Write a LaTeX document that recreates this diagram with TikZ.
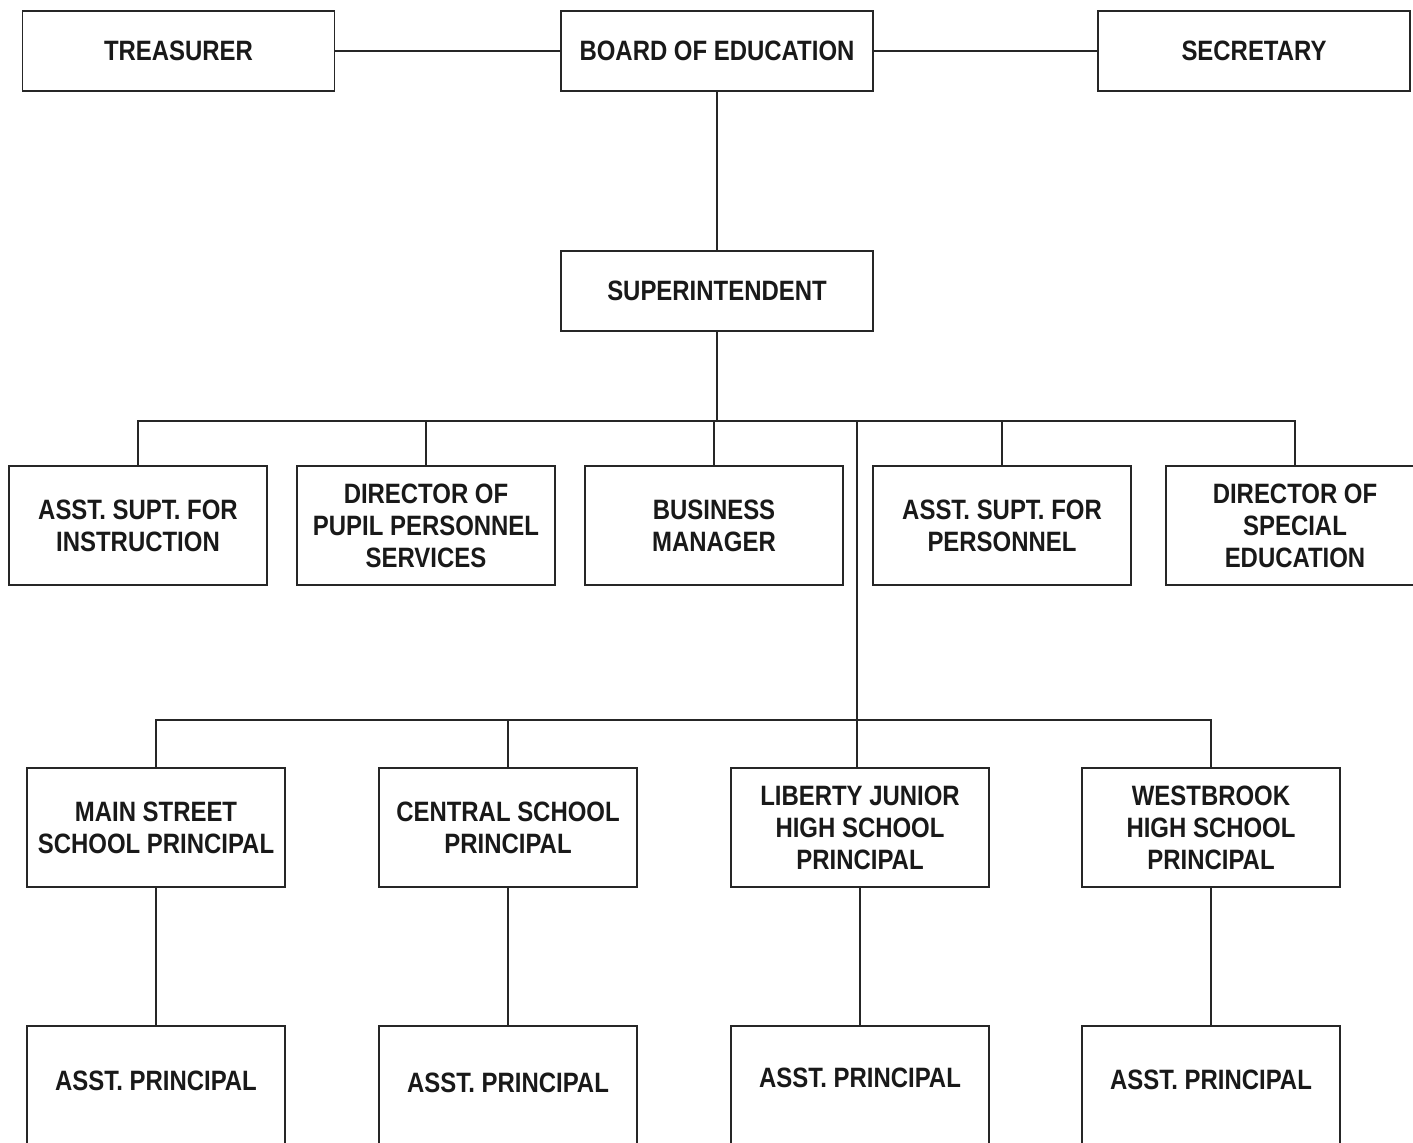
\documentclass[tikz,border=0pt]{standalone}
\usepackage{fontspec}
\setmainfont{Liberation Sans}[FakeStretch=0.855]
\newcommand{\upby}[2]{\raisebox{#1}[\height][\depth]{#2}}
\begin{document}
\begin{tikzpicture}[x=0.5pt,y=-0.5pt,
  box/.style={draw=black!85, line width=0.65pt, fill=white, inner sep=0pt,
    align=center, text=black!90, font=\fontsize{14}{16}\selectfont\bfseries},
  topbox/.style={box, minimum width=156pt, minimum height=40pt},
  midbox/.style={box, minimum width=129pt, minimum height=59.5pt},
  conn/.style={draw=black!85, line width=0.65pt}]
\fill[white] (0,0) rectangle (1413,1142);
\clip (0,0) rectangle (1413,1142);
% top row
\node[topbox] (trea) at (178.5,51) {TREASURER};
\node[topbox] (board) at (717,51) {BOARD OF EDUCATION};
\node[topbox] (secr) at (1254,51) {SECRETARY};
\node[topbox] (super) at (717,291) {SUPERINTENDENT};
% second row
\node[midbox] (b1) at (138,525.5) {ASST. SUPT. FOR\\INSTRUCTION};
\node[midbox] (b2) at (426,525.5) {DIRECTOR OF\\PUPIL PERSONNEL\\SERVICES};
\node[midbox] (b3) at (714,525.5) {BUSINESS\\MANAGER};
\node[midbox] (b4) at (1002,525.5) {ASST. SUPT. FOR\\PERSONNEL};
\node[midbox] (b5) at (1295,525.5) {DIRECTOR OF\\SPECIAL\\EDUCATION};
% third row
\node[midbox] (c1) at (156,827.5) {MAIN STREET\\SCHOOL PRINCIPAL};
\node[midbox] (c2) at (508,827.5) {CENTRAL SCHOOL\\PRINCIPAL};
\node[midbox] (c3) at (860,827.5) {LIBERTY JUNIOR\\HIGH SCHOOL\\PRINCIPAL};
\node[midbox] (c4) at (1211,827.5) {WESTBROOK\\HIGH SCHOOL\\PRINCIPAL};
% fourth row (cut off at the bottom)
\node[midbox] (d1) at (156,1085.5) {\upby{2.25pt}{ASST. PRINCIPAL}};
\node[midbox] (d2) at (508,1085.5) {\upby{1.25pt}{ASST. PRINCIPAL}};
\node[midbox] (d3) at (860,1085.5) {\upby{3.75pt}{ASST. PRINCIPAL}};
\node[midbox] (d4) at (1211,1085.5) {\upby{2.75pt}{ASST. PRINCIPAL}};
% connectors
\coordinate (bus1) at (717,421);
\coordinate (br) at (857,421);
\coordinate (bus2) at (857,720);
\draw[conn] (trea) -- (board);
\draw[conn] (board) -- (secr);
\draw[conn] (board) -- (super);
\draw[conn] (super.south) -- (super.south |- bus1);
\draw[conn] (b1.north) -- (b1.north |- bus1) -- (b5.north |- bus1) -- (b5.north);
\draw[conn] (b2.north) -- (b2.north |- bus1);
\draw[conn] (b3.north) -- (b3.north |- bus1);
\draw[conn] (b4.north) -- (b4.north |- bus1);
\draw[conn] (br) -- (br |- c3.north);
\draw[conn] (c1.north) -- (c1.north |- bus2) -- (c4.north |- bus2) -- (c4.north);
\draw[conn] (c2.north) -- (c2.north |- bus2);
\draw[conn] (c1) -- (d1);
\draw[conn] (c2) -- (d2);
\draw[conn] (c3) -- (d3);
\draw[conn] (c4) -- (d4);
\end{tikzpicture}
\end{document}
